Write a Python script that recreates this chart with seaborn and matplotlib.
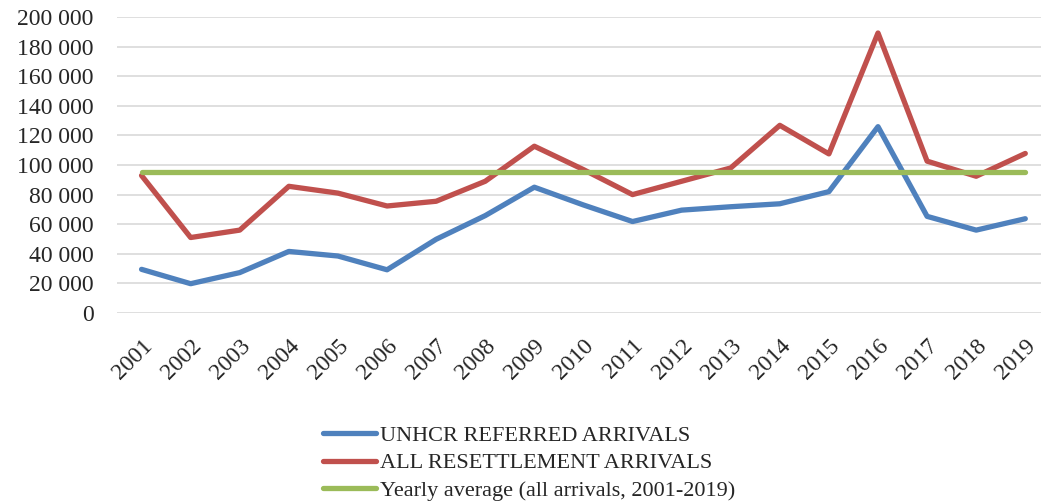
import pandas as pd
import matplotlib.pyplot as plt
import seaborn as sns
from matplotlib.ticker import FuncFormatter

# Valores
anos = list(range(2001, 2020))
unhcr = [29500, 19800, 27300, 41600, 38500, 29200, 49800, 65800, 85000, 73000,
         61800, 69500, 71800, 73800, 82000, 125900, 65300, 56000, 63700]
todos = [92900, 51000, 56000, 85600, 81000, 72300, 75500, 89000, 112700, 96900,
         80000, 89000, 98000, 126800, 107500, 189200, 102600, 92400, 107800]
media = [95400] * len(anos)

nomes = ["UNHCR REFERRED ARRIVALS", "ALL RESETTLEMENT ARRIVALS",
         "Yearly average (all arrivals, 2001-2019)"]
cores = ["#4f81bd", "#c0504d", "#9bbb59"]

df = pd.concat([
    pd.DataFrame({"ano": anos, "valor": unhcr, "serie": nomes[0]}),
    pd.DataFrame({"ano": anos, "valor": todos, "serie": nomes[1]}),
    pd.DataFrame({"ano": anos, "valor": media, "serie": nomes[2]}),
])

sns.set_style("white")
plt.rcParams['font.family'] = ['Liberation Serif', 'DejaVu Serif']

fig = plt.figure(figsize=(10.41, 5.03), dpi=100)
ax = fig.add_axes([117 / 1041, 1 - 313 / 503, (1041 - 117) / 1041, (313 - 17) / 503])

sns.lineplot(data=df, x="ano", y="valor", hue="serie", palette=cores,
             linewidth=3.8, sort=False, ax=ax, legend=True,
             solid_capstyle="round")

ax.set_ylim(0, 200000)
ax.set_yticks(range(0, 200001, 20000))
ax.yaxis.set_major_formatter(FuncFormatter(lambda v, p: f"{int(v):,}".replace(",", " ")))
ax.set_xlim(2000.5, 2019.32)
ax.set_xticks(anos)
ax.set_xticklabels([str(a) for a in anos], rotation=45, ha="right",
                   rotation_mode="anchor")
ax.tick_params(axis="y", length=0, pad=17, labelsize=17)
ax.tick_params(axis="x", length=0, pad=16, labelsize=17)

ax.set_xlabel("")
ax.set_ylabel("")
ax.grid(axis="y", color="#d9d9d9", linewidth=1.2)
ax.set_axisbelow(True)
for s in ax.spines.values():
    s.set_visible(False)

handles, labels = ax.get_legend_handles_labels()
ax.get_legend().remove()
fig.legend(handles, labels, loc="upper left", bbox_to_anchor=(323 / 1041, 0.154),
           frameon=False, fontsize=16, handlelength=2.4, handletextpad=0.15,
           labelspacing=0.3, borderpad=0, borderaxespad=0)

fig.savefig("out.png", dpi=100)
